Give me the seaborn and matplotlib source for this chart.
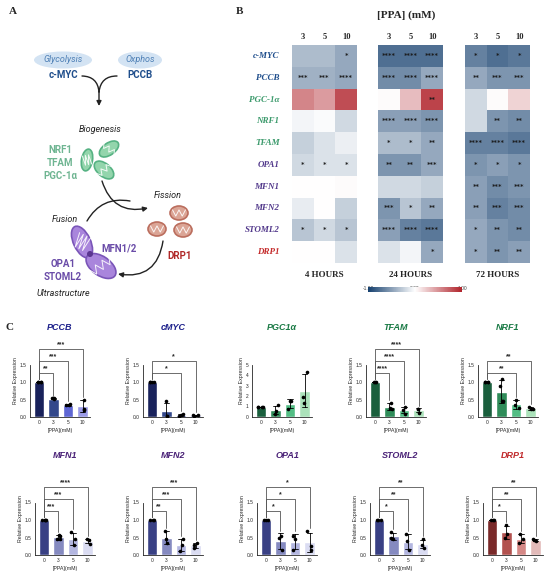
import numpy as np
import pandas as pd
import seaborn as sns
import matplotlib.pyplot as plt
from matplotlib.colors import LinearSegmentedColormap
from matplotlib.patches import Ellipse, FancyArrowPatch

# ---- panel B: heatmap data (log fold change vs control) ----
genes = ['c-MYC', 'PCCB', 'PGC-1α', 'NRF1', 'TFAM', 'OPA1', 'MFN1', 'MFN2', 'STOML2', 'DRP1']
gene_colors = ['#1f4e8c', '#1f4e8c', '#3c9a6c', '#3c9a6c', '#3c9a6c',
               '#533a8c', '#533a8c', '#533a8c', '#533a8c', '#c42a2a']
hm_doses = ['3', '5', '10']
hours = ['4 HOURS', '24 HOURS', '72 HOURS']

fc_4h = [[-0.35, -0.35, -0.45], [-0.4, -0.4, -0.45], [0.55, 0.45, 0.8], [-0.05, -0.02, -0.2],
         [-0.25, -0.15, -0.08], [-0.2, -0.15, -0.15], [0.0, 0.0, 0.02], [-0.1, 0.0, -0.25],
         [-0.3, -0.2, -0.3], [0.0, 0.0, -0.15]]
fc_24h = [[-0.75, -0.75, -0.75], [-0.6, -0.6, -0.45], [0.02, 0.3, 0.85], [-0.5, -0.5, -0.55],
          [-0.35, -0.35, -0.45], [-0.55, -0.55, -0.45], [-0.2, -0.2, -0.25], [-0.55, -0.3, -0.45],
          [-0.5, -0.65, -0.7], [-0.15, -0.05, -0.45]]
fc_72h = [[-0.65, -0.75, -0.7], [-0.45, -0.55, -0.55], [-0.2, 0.02, 0.2], [-0.2, -0.55, -0.6],
          [-0.65, -0.65, -0.7], [-0.55, -0.5, -0.55], [-0.5, -0.6, -0.55], [-0.5, -0.65, -0.6],
          [-0.45, -0.55, -0.6], [-0.45, -0.55, -0.5]]

stars_4h = [['', '', '*'], ['***', '***', '****'], ['', '', ''], ['', '', ''], ['', '', ''],
            ['*', '*', '*'], ['', '', ''], ['', '', ''], ['*', '*', '*'], ['', '', '']]
stars_24h = [['****', '****', '****'], ['****', '****', '****'], ['', '', '**'],
             ['****', '****', '****'], ['*', '*', '**'], ['**', '**', '***'], ['', '', ''],
             ['***', '*', '**'], ['****', '****', '****'], ['', '', '*']]
stars_72h = [['*', '*', '*'], ['**', '***', '***'], ['', '', ''], ['', '**', '**'],
             ['****', '****', '****'], ['*', '*', '*'], ['**', '***', '***'],
             ['**', '***', '***'], ['*', '**', '**'], ['*', '**', '**']]

# ---- panel C: qPCR replicates ----
doses = ['0', '3', '5', '10']
pccb_rep = [[1, 1, 1, 1], [0.52, 0.53, 0.53], [0.38, 0.33, 0.35], [0.5, 0.22, 0.19]]
cmyc_rep = [[1, 1, 1, 1], [0.45, 0.02, 0.02], [0.02, 0.05, 0.08], [0.03, 0.07, 0.05]]
pgc1a_rep = [[1, 1, 1, 1], [1.1, 0.6, 0.3], [1.5, 1.5, 0.8], [4.3, 1.9, 1.3]]
tfam_rep = [[1, 1, 1], [0.4, 0.25, 0.22], [0.28, 0.1, 0.2], [0.22, 0.22, 0.12]]
nrf1_rep = [[1, 1, 1, 1], [1.1, 0.9, 0.45, 0.45], [0.5, 0.35, 0.25], [0.3, 0.22, 0.22]]
mfn1_rep = [[1, 1, 1, 1], [0.55, 0.57, 0.45, 0.45], [0.65, 0.45, 0.3], [0.45, 0.42, 0.32]]
mfn2_rep = [[1, 1, 1], [0.7, 0.45, 0.35], [0.45, 0.3, 0.12], [0.33, 0.3, 0.2]]
opa1_rep = [[1, 1, 1], [0.55, 0.5, 0.15], [0.55, 0.45, 0.15], [0.68, 0.25, 0.15]]
stoml2_rep = [[1, 1, 1], [0.65, 0.5, 0.45], [0.6, 0.4, 0.15], [0.45, 0.3, 0.2]]
drp1_rep = [[1, 1, 1], [0.85, 0.6, 0.5], [0.6, 0.45, 0.35], [0.45, 0.42, 0.4]]

pccb_sig = [(1, '**'), (2, '***'), (3, '***')]
cmyc_sig = [(2, '*'), (3, '*')]
pgc1a_sig = []
tfam_sig = [(1, '****'), (2, '****'), (3, '****')]
nrf1_sig = [(2, '**'), (3, '**')]
mfn1_sig = [(1, '***'), (2, '***'), (3, '****')]
mfn2_sig = [(1, '**'), (2, '***'), (3, '***')]
opa1_sig = [(1, '*'), (2, '*'), (3, '*')]
stoml2_sig = [(1, '*'), (2, '**'), (3, '**')]
drp1_sig = [(1, '*'), (2, '**'), (3, '**')]

navy_pal = ['#0e1a66', '#24409a', '#4b55e6', '#8e8ef4']
green_pal = ['#0f6a3d', '#1f9c58', '#41cf82', '#a2ebb6']
purple_pal = ['#2d3690', '#7b82ca', '#abb0e8', '#d6d8f6']
red_pal = ['#861c1c', '#c2423e', '#e27c79', '#e9b3b2']

top_row = [('PCCB', pccb_rep, pccb_sig, navy_pal, '#1b1f8a'),
           ('cMYC', cmyc_rep, cmyc_sig, navy_pal, '#1b1f8a'),
           ('PGC1α', pgc1a_rep, pgc1a_sig, green_pal, '#1a7a45'),
           ('TFAM', tfam_rep, tfam_sig, green_pal, '#1a7a45'),
           ('NRF1', nrf1_rep, nrf1_sig, green_pal, '#1a7a45')]
bottom_row = [('MFN1', mfn1_rep, mfn1_sig, purple_pal, '#4b2378'),
              ('MFN2', mfn2_rep, mfn2_sig, purple_pal, '#4b2378'),
              ('OPA1', opa1_rep, opa1_sig, purple_pal, '#4b2378'),
              ('STOML2', stoml2_rep, stoml2_sig, purple_pal, '#4b2378'),
              ('DRP1', drp1_rep, drp1_sig, red_pal, '#c0282a')]

W, H = 550, 576
SERIF = ['Liberation Serif', 'DejaVu Serif']
SANS = ['Liberation Sans', 'DejaVu Sans']


def px_axes(fig, left, top, width, height):
    return fig.add_axes([left / W, 1 - (top + height) / H, width / W, height / H])


def mito(ax, x, y, w, h, angle, face, edge, n=7):
    ax.add_patch(Ellipse((x, y), w, h, angle=angle, facecolor=face, edgecolor=edge, lw=1.2))
    t = np.deg2rad(-angle)
    lx = np.linspace(-0.36 * w, 0.36 * w, n)
    ly = np.where(np.arange(n) % 2 == 0, -0.22 * h, 0.22 * h)
    xs = x + lx * np.cos(t) - ly * np.sin(t)
    ys = y + lx * np.sin(t) + ly * np.cos(t)
    ax.plot(xs, ys, color='white', lw=0.7, alpha=0.9)


def arrow(ax, a, b, rad, head=True):
    style = '-|>' if head else '-'
    ax.add_patch(FancyArrowPatch(a, b, connectionstyle=f'arc3,rad={rad}', arrowstyle=style,
                                 mutation_scale=7, color='#222222', lw=1.0,
                                 shrinkA=0, shrinkB=0))


def draw_schematic(ax):
    for (x, y, w, label) in [(63, 60, 58, 'Glycolysis'), (140, 60, 44, 'Oxphos')]:
        ax.add_patch(Ellipse((x, y), w, 17, facecolor='#d3e3f3', edgecolor='none'))
        ax.text(x, y, label, ha='center', va='center', fontsize=6.5, style='italic',
                color='#4d7fb5', family='Roboto')
    ax.text(63, 75, 'c-MYC', ha='center', va='center', fontsize=7, weight='bold',
            color='#1f4e8c', family='Roboto')
    ax.text(140, 75, 'PCCB', ha='center', va='center', fontsize=7, weight='bold',
            color='#1f4e8c', family='Roboto')
    arrow(ax, (82, 76), (99, 92), -0.45, head=False)
    arrow(ax, (117, 76), (99, 92), 0.45, head=False)
    arrow(ax, (99, 91), (99, 106), 0)
    ax.text(100, 129, 'Biogenesis', ha='center', va='center', fontsize=6.5, style='italic',
            color='#222222', family='Roboto')
    for i, g in enumerate(['NRF1', 'TFAM', 'PGC-1α']):
        ax.text(60, 150 + 13 * i, g, ha='center', va='center', fontsize=7, weight='bold',
                color='#6fb592', family='Roboto')
    green = ('#93d5ac', '#56b283')
    mito(ax, 87, 160, 11, 22, 10, *green, n=6)
    mito(ax, 109, 149, 22, 12, -35, *green, n=6)
    mito(ax, 104, 170, 23, 13, 40, *green, n=6)
    arrow(ax, (102, 181), (148, 208), 0.45)
    arrow(ax, (87, 221), (130, 201), -0.35, head=False)
    ax.text(168, 195, 'Fission', ha='center', va='center', fontsize=6.5, style='italic',
            color='#222222', family='Roboto')
    red = ('#dba596', '#bb6e5e')
    mito(ax, 179, 213, 18, 14, 0, *red, n=5)
    mito(ax, 157, 229, 18, 14, 0, *red, n=5)
    mito(ax, 183, 230, 18, 14, 0, *red, n=5)
    ax.text(180, 256, 'DRP1', ha='center', va='center', fontsize=7, weight='bold',
            color='#b02828', family='Roboto')
    arrow(ax, (163, 241), (118, 274), -0.5)
    ax.text(65, 220, 'Fusion', ha='center', va='center', fontsize=6.5, style='italic',
            color='#222222', family='Roboto')
    purple = ('#a985dc', '#7a55b8')
    mito(ax, 82, 242, 17, 34, -25, *purple, n=7)
    mito(ax, 101, 266, 34, 19, 35, *purple, n=7)
    ax.add_patch(Ellipse((90, 254), 6, 6, facecolor='#5a3590', edgecolor='none'))
    ax.text(119, 248, 'MFN1/2', ha='center', va='center', fontsize=7, weight='bold',
            color='#6a4ca8', family='Roboto')
    ax.text(63, 264, 'OPA1', ha='center', va='center', fontsize=7, weight='bold',
            color='#6a4ca8', family='Roboto')
    ax.text(63, 277, 'STOML2', ha='center', va='center', fontsize=7, weight='bold',
            color='#6a4ca8', family='Roboto')
    ax.text(63, 293, 'Ultrastructure', ha='center', va='center', fontsize=6.5, style='italic',
            color='#222222', family='Roboto')


def draw_heatmaps(fig):
    cmap = LinearSegmentedColormap.from_list('fc', ['#143f6e', '#ffffff', '#b0222a'])
    cax = px_axes(fig, 368, 287, 94, 5)
    lefts = [292, 378, 465]
    for k, (fc, stars) in enumerate([(fc_4h, stars_4h), (fc_24h, stars_24h), (fc_72h, stars_72h)]):
        ax = px_axes(fig, lefts[k], 45, 65, 218)
        sns.heatmap(np.array(fc), ax=ax, cmap=cmap, vmin=-1, vmax=1,
                    annot=np.array(stars), fmt='',
                    annot_kws={'fontsize': 4.8, 'color': '#1a1a1a', 'weight': 'bold',
                               'family': 'DejaVu Sans'},
                    cbar=(k == 1), cbar_ax=cax if k == 1 else None,
                    cbar_kws={'orientation': 'horizontal'},
                    xticklabels=hm_doses, yticklabels=genes if k == 0 else False)
        ax.xaxis.tick_top()
        ax.tick_params(length=0, pad=3)
        for t in ax.get_xticklabels():
            t.set_fontsize(6)
            t.set_fontweight('bold')
            t.set_fontfamily(SERIF)
        if k == 0:
            for t, c in zip(ax.get_yticklabels(), gene_colors):
                t.set_rotation(0)
                t.set_color(c)
                t.set_fontsize(6.5)
                t.set_fontweight('bold')
                t.set_fontstyle('italic')
                t.set_fontfamily(SERIF)
            ax.tick_params(axis='y', pad=9)
        ax.set_xlabel('')
        ax.text(0.5, -0.035, hours[k], transform=ax.transAxes, ha='center', va='top',
                fontsize=6.5, weight='bold', family=SERIF)
    cax.set_xticks([-1, 0, 1])
    cax.set_xticklabels(['-1.00', '0.00', '1.00'])
    cax.tick_params(length=0, labelsize=3.5, pad=-4.5, colors='#444444')
    for s in cax.spines.values():
        s.set_visible(False)


def draw_bars(ax, name, reps, sig, pal, title_color, title_y, big=False):
    df = pd.DataFrame([(d, v) for d, vals in zip(doses, reps) for v in vals],
                      columns=['dose', 'expr'])
    sns.barplot(data=df, x='dose', y='expr', hue='dose', palette=pal, order=doses,
                errorbar='sd', capsize=0.35, width=0.72, legend=False, ax=ax,
                err_kws={'linewidth': 0.6, 'color': 'black'})
    sns.stripplot(data=df, x='dose', y='expr', order=doses, color='black', size=2.6,
                  jitter=0.18, ax=ax)
    top = 5 if big else 1.5
    scale = top / 1.5
    ax.set_ylim(0, 2.1 * scale)
    ax.set_xlim(-0.6, 3.5)
    ticks = np.arange(0, 6) if big else [0, 0.5, 1.0, 1.5]
    ax.set_yticks(ticks)
    ax.set_yticklabels([f'{t:g}' if big else f'{t:.1f}' for t in ticks])
    ax.spines[['top', 'right']].set_visible(False)
    ax.spines['left'].set_bounds(0, top)
    ax.spines['left'].set_linewidth(0.6)
    ax.spines['bottom'].set_linewidth(0.6)
    ax.tick_params(labelsize=3.5, length=1.5, width=0.5, pad=1)
    ax.set_xlabel('[PPA](mM)', fontsize=3.8, labelpad=1.5)
    ax.set_ylabel('Relative Expression', fontsize=3.8, labelpad=1.5)
    ax.set_facecolor('none')
    for i, (j, star) in enumerate(sig):
        h = (1.27 + 0.34 * i) * scale
        vals = np.array(reps[j])
        low = max(vals.max(), vals.mean() + vals.std(ddof=1)) + 0.08 * scale
        ax.plot([0, 0, j, j], [1.08 * scale, h, h, low], color='#555555', lw=0.6,
                clip_on=False)
        ax.text(j / 2, h + 0.02 * scale, star, ha='center', va='bottom', fontsize=5,
                weight='bold', family=SANS)
    ax.text(0.5, title_y, name, transform=ax.transAxes, ha='center', va='center',
            fontsize=6.5, weight='bold', style='italic', color=title_color, family=SANS)


def main():
    sns.set_style('white')
    plt.rcParams['font.family'] = SANS
    fig = plt.figure(figsize=(W / 100, H / 100), dpi=100)

    bg = fig.add_axes([0, 0, 1, 1])
    bg.set_xlim(0, W)
    bg.set_ylim(H, 0)
    bg.axis('off')
    draw_schematic(bg)
    for letter, x, y in [('A', 13, 11), ('B', 239, 11), ('C', 9, 328)]:
        bg.text(x, y, letter, ha='center', va='center', fontsize=8, weight='bold', family=SERIF)
    bg.text(406, 15, '[PPA] (mM)', ha='center', va='center', fontsize=8, weight='bold',
            family=SERIF)

    draw_heatmaps(fig)

    top_lefts = [30, 143, 252, 366, 478]
    bottom_lefts = [35, 143, 257, 370, 483]
    for lefts, y0, title_y, row in [(top_lefts, 417, 1.22, top_row),
                                    (bottom_lefts, 555, 1.36, bottom_row)]:
        for left, (name, reps, sig, pal, tc) in zip(lefts, row):
            ax = px_axes(fig, left, y0 - 73.5, 60, 73.5)
            draw_bars(ax, name, reps, sig, pal, tc, title_y, big=(name == 'PGC1α'))

    fig.savefig('out.png', dpi=100)


if __name__ == "__main__":
    main()
